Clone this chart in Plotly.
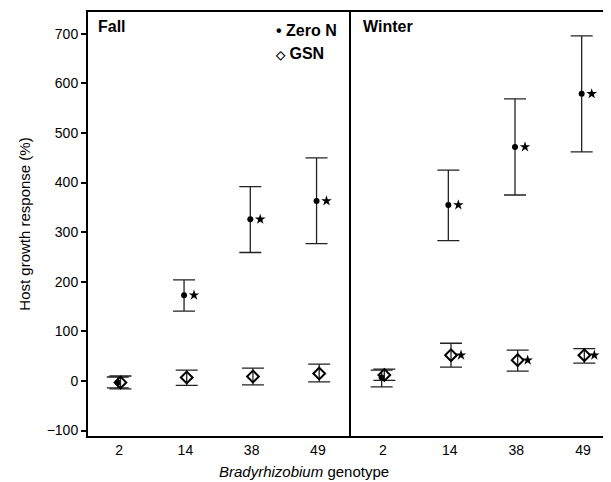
import plotly.graph_objects as go

genotypes = ["2", "14", "38", "49"]

fall_zero = [-3, 173, 326, 363]
fall_zero_hi = [8, 204, 392, 450]
fall_zero_lo = [-14, 141, 259, 277]
fall_gsn = [-3, 7, 9, 15]
fall_gsn_hi = [10, 22, 26, 34]
fall_gsn_lo = [-16, -9, -8, -2]

win_zero = [7, 355, 472, 579]
win_zero_hi = [22, 425, 569, 696]
win_zero_lo = [-12, 283, 375, 462]
win_gsn = [12, 52, 42, 52]
win_gsn_hi = [24, 76, 62, 65]
win_gsn_lo = [1, 28, 20, 36]

fall_zero_sig = [False, True, True, True]
fall_gsn_sig = [False, False, False, False]
win_zero_sig = [False, True, True, True]
win_gsn_sig = [False, True, True, True]

FONT = "Liberation Sans, Arial, sans-serif"
ERRC = "#222222"

# page body has an 8px default margin
PAD = 8
L, T, B = 88 - PAD, 12 - PAD, 46
W, H = 611 - PAD, 482 - PAD
PW = W - L
PH = H - T - B

fig = go.Figure()

def add_series(vals, hi, lo, sig, axis, kind):
    off = -0.02 if kind == "zero" else 0.02
    xs = [i + off for i in range(len(genotypes))]
    if kind == "zero":
        marker = dict(symbol="circle", size=6, color="black")
    else:
        marker = dict(symbol="diamond-open", size=9, color="black", line=dict(width=2, color="black"))
    fig.add_trace(go.Scatter(
        x=xs, y=vals, mode="markers", marker=marker, showlegend=False,
        xaxis="x" if axis == 1 else "x2", yaxis="y" if axis == 1 else "y2",
        error_y=dict(type="data", symmetric=False,
                     array=[h - v for h, v in zip(hi, vals)],
                     arrayminus=[v - l for l, v in zip(lo, vals)],
                     color=ERRC, thickness=1.3, width=11),
    ))
    sx = [x + 0.15 for x, s in zip(xs, sig) if s]
    sy = [v for v, s in zip(vals, sig) if s]
    if sx:
        fig.add_trace(go.Scatter(
            x=sx, y=sy, mode="markers", showlegend=False,
            marker=dict(symbol="star", size=8, color="black"),
            xaxis="x" if axis == 1 else "x2", yaxis="y" if axis == 1 else "y2",
        ))

add_series(fall_zero, fall_zero_hi, fall_zero_lo, fall_zero_sig, 1, "zero")
add_series(fall_gsn, fall_gsn_hi, fall_gsn_lo, fall_gsn_sig, 1, "gsn")
add_series(win_zero, win_zero_hi, win_zero_lo, win_zero_sig, 2, "zero")
add_series(win_gsn, win_gsn_hi, win_gsn_lo, win_gsn_sig, 2, "gsn")

split = (351 - 88) / PW

def px(xpix):
    return (xpix - 88) / PW

def py(ypix):
    return 1 - (ypix - 12) / PH

xcommon = dict(tickvals=[0, 1, 2, 3], ticktext=genotypes, showline=True, linecolor="black",
               linewidth=2, mirror=True, ticks="", showgrid=False, zeroline=False,
               automargin=False,
               tickfont=dict(family=FONT, size=14, color="black"))
ycommon = dict(range=[-111, 744], showline=True, linecolor="black", linewidth=2,
               showgrid=False, zeroline=False, automargin=False)

fig.update_layout(
    width=W, height=H,
    margin=dict(l=L, r=0, t=T, b=B),
    paper_bgcolor="white", plot_bgcolor="white",
    font=dict(family=FONT, color="black"),
    xaxis=dict(domain=[0, split], range=[-0.47, 3.5], **xcommon),
    xaxis2=dict(domain=[split, 1], range=[-0.48, 3.42], anchor="y2", **xcommon),
    yaxis=dict(tickvals=[-100, 0, 100, 200, 300, 400, 500, 600, 700], ticks="outside",
               ticklen=5, tickwidth=1.5, tickcolor="black",
               tickfont=dict(family=FONT, size=14, color="black"),
               title=dict(text="Host growth response (%)", font=dict(family=FONT, size=15, color="black"),
                          standoff=12),
               **ycommon),
    yaxis2=dict(anchor="x2", showticklabels=False, ticks="", **ycommon),
    annotations=[
        dict(text="<b>Fall</b>", xref="paper", yref="paper", x=px(96), y=py(16),
             xanchor="left", yanchor="top", showarrow=False, font=dict(family=FONT, size=16)),
        dict(text="<b>Winter</b>", xref="paper", yref="paper", x=px(361), y=py(16),
             xanchor="left", yanchor="top", showarrow=False, font=dict(family=FONT, size=16)),
        dict(text="<b>• Zero N</b>", xref="paper", yref="paper", x=px(274), y=py(31),
             xanchor="left", yanchor="middle", showarrow=False, font=dict(family=FONT, size=16)),
        dict(text="<b><span style='font-size:12px'>◇</span> GSN</b>", xref="paper", yref="paper",
             x=px(273), y=py(53), xanchor="left", yanchor="middle", showarrow=False,
             font=dict(family=FONT, size=16)),
        dict(text="<i>Bradyrhizobium</i> genotype", xref="paper", yref="paper",
             x=px(304), y=py(471), xanchor="center", yanchor="middle",
             showarrow=False, font=dict(family=FONT, size=15)),
    ],
)

fig.write_html("out.html")
